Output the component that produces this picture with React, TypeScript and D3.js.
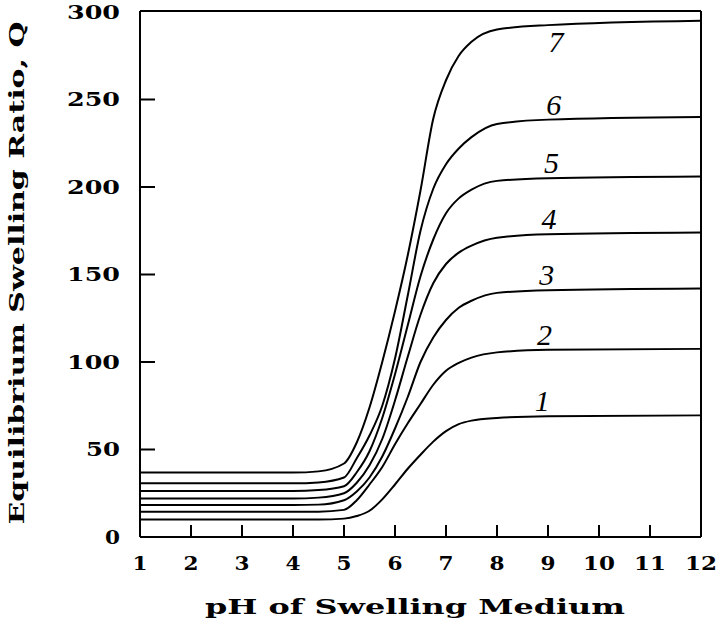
import React from 'react';
import * as d3 from 'd3';

const phPoints = [1, 4, 4.5, 5, 5.25, 5.5, 5.75, 6, 6.25, 6.5, 6.75, 7, 7.25, 7.5, 8, 9, 12];

// equilibrium swelling ratio Q for each gel (1 = lowest, 7 = highest)
const curve1 = [10, 10, 10, 10.5, 12, 15, 21.5, 30, 39, 47, 54.5, 60.5, 64.5, 66.5, 68, 69, 69.5];
const curve2 = [14.5, 14.5, 14.5, 15.5, 21, 30, 40, 53, 65, 76, 87, 95, 99.5, 102.5, 105.5, 107, 107.5];
const curve3 = [18.3, 18.3, 18.5, 21, 26, 34, 46, 62, 80, 100, 114, 124, 131, 135, 139.5, 141, 142];
const curve4 = [22, 22, 22.5, 25, 31, 41, 56, 78, 103, 127, 145, 156, 162.5, 166.5, 171, 173, 174];
const curve5 = [26.3, 26.3, 26.8, 29, 37, 49, 68, 93, 121, 149, 170, 185, 193.5, 198.5, 203.5, 205, 206];
const curve6 = [30.7, 30.7, 31.2, 34, 45, 58, 75, 102, 138, 175, 199, 213, 222, 228.5, 236, 238.5, 240];
const curve7 = [36.8, 36.8, 37.5, 42, 54, 74, 100, 129, 161, 198, 239, 261, 275, 283, 290, 292.5, 295];

const curves = [curve1, curve2, curve3, curve4, curve5, curve6, curve7];
const curveNames = ['1', '2', '3', '4', '5', '6', '7'];

const xTicks = [1, 2, 3, 4, 5, 6, 7, 8, 9, 10, 11, 12];
const yTicks = [0, 50, 100, 150, 200, 250, 300];

const xTitle = 'pH of Swelling Medium';
const yTitle = 'Equilibrium Swelling Ratio, Q';

const W = 728;
const H = 630;
const labelPH = 9;

const App = () => {
  const x = d3.scaleLinear().domain([1, 12]).range([140, 701]);
  const y = d3.scaleLinear().domain([0, 300]).range([537, 12]);

  const line = d3
    .line<number>()
    .x((_, i) => x(phPoints[i]))
    .y((d) => y(d))
    .curve(d3.curveMonotoneX);

  const [x0, x1] = x.range();
  const [yb, yt] = y.range();
  const font = '"DejaVu Serif", serif';

  return (
    <svg
      width={W}
      height={H}
      style={{ position: 'absolute', left: 0, top: 0, background: '#fff' }}
    >
      <rect width={W} height={H} fill="#fff" />

      {/* frame */}
      <g stroke="#000" strokeWidth={2} fill="none">
        <line x1={x0} y1={yt - 1} x2={x0} y2={yb} />
        <line x1={x0} y1={yb} x2={x1} y2={yb} />
        <line x1={x0} y1={yt - 1} x2={x1} y2={yt - 1} />
        <line x1={x1} y1={yt - 1} x2={x1} y2={yb} />
      </g>

      {/* ticks, pointing inward */}
      <g stroke="#000" strokeWidth={2}>
        {yTicks.slice(1, -1).map((t) => (
          <line key={t} x1={x0} x2={x0 + 15} y1={y(t)} y2={y(t)} />
        ))}
        {xTicks.slice(1, -1).map((t) => (
          <line key={t} x1={x(t)} x2={x(t)} y1={yb} y2={yb - 12} />
        ))}
      </g>

      {/* tick labels */}
      <g fontFamily={font} fontWeight="bold" fontSize={18} fill="#000">
        {yTicks.map((t) => {
          const s = String(t);
          return (
            <text
              key={t}
              x={120}
              y={y(t) + 6.5}
              textAnchor="end"
              textLength={s.length * 19 - 4}
              lengthAdjust="spacingAndGlyphs"
            >
              {s}
            </text>
          );
        })}
        {xTicks.map((t) => {
          const s = String(t);
          return (
            <text
              key={t}
              x={x(t)}
              y={570}
              textAnchor="middle"
              textLength={s.length * 17 - 2}
              lengthAdjust="spacingAndGlyphs"
            >
              {s}
            </text>
          );
        })}
      </g>

      {/* axis titles */}
      <text
        x={415}
        y={614}
        textAnchor="middle"
        fontFamily={font}
        fontWeight="bold"
        fontSize={20}
        textLength={420}
        lengthAdjust="spacingAndGlyphs"
      >
        {xTitle}
      </text>
      <text
        transform="translate(24,273) rotate(-90)"
        textAnchor="middle"
        fontFamily={font}
        fontWeight="bold"
        fontSize={20}
        textLength={503}
        lengthAdjust="spacingAndGlyphs"
      >
        {yTitle}
      </text>

      {/* curves */}
      <g fill="none" stroke="#000" strokeWidth={2}>
        {curves.map((c, i) => (
          <path key={i} d={line(c) ?? ''} />
        ))}
      </g>

      {/* curve labels */}
      <g fontFamily='"Liberation Serif", serif' fontStyle="italic" fontSize={30} fill="#000">
        {curves.map((c, i) => {
          const v = c[phPoints.indexOf(labelPH)];
          const off = i === curves.length - 1 ? 27 : -5;
          return (
            <text
              key={i}
              x={x(labelPH) + 8 - (6 - i) * 2.3}
              y={y(v) + off}
              textAnchor="middle"
            >
              {curveNames[i]}
            </text>
          );
        })}
      </g>
    </svg>
  );
};

export default App;
